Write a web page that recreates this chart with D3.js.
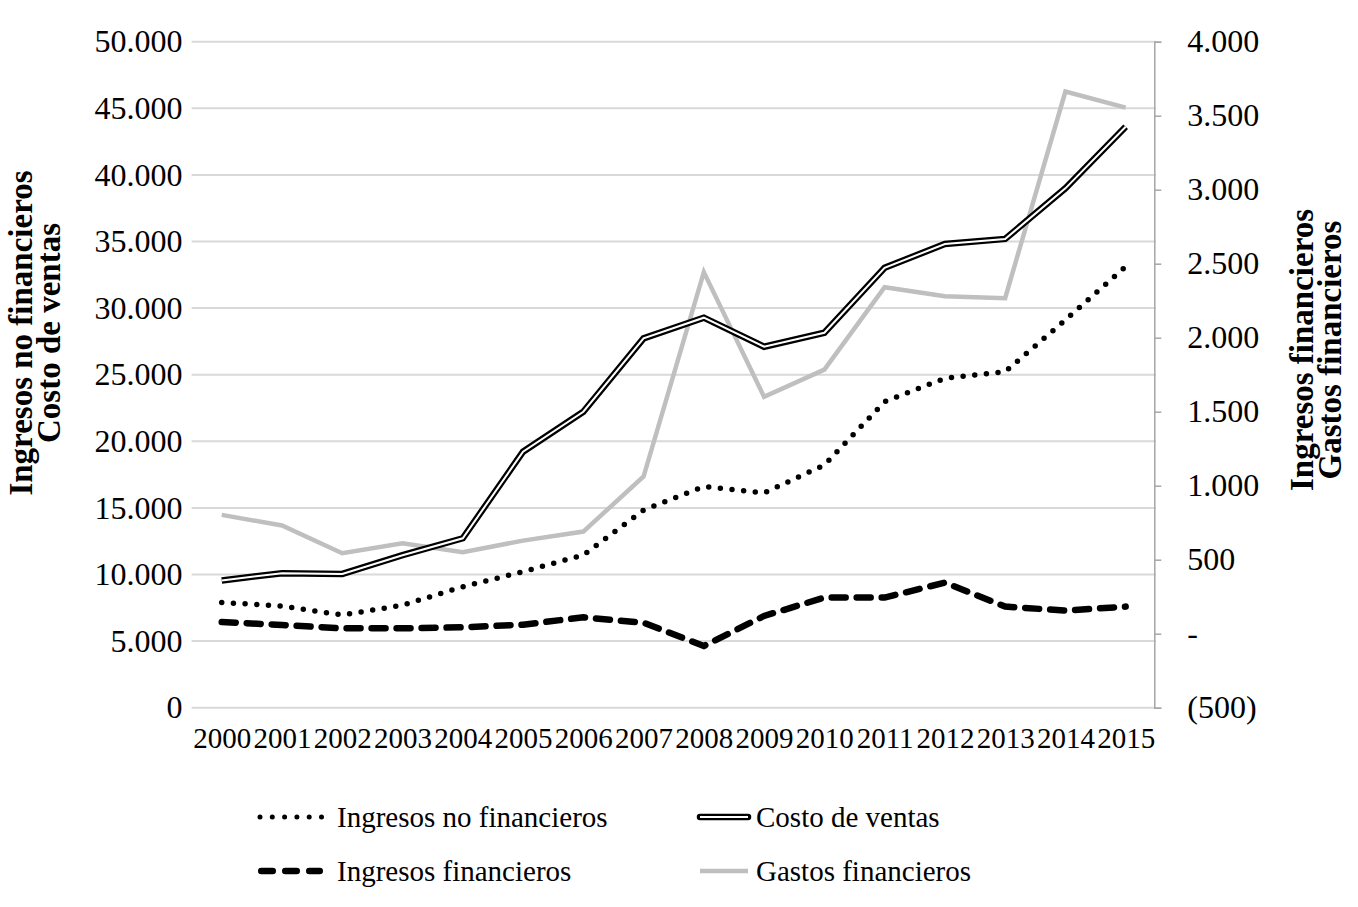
<!DOCTYPE html>
<html><head><meta charset="utf-8">
<script src="https://cdn.jsdelivr.net/npm/d3@7/dist/d3.min.js"></script>
<style>body{margin:0;background:#fff}svg{display:block}text{font-family:"Liberation Serif","Times New Roman",serif;fill:#000}</style>
</head><body><svg id="c" width="1358" height="907"></svg>
<script>
const years = ["2000","2001","2002","2003","2004","2005","2006","2007","2008","2009","2010","2011","2012","2013","2014","2015"];
const ingresosNoFin = [7900,7630,6960,7700,9080,10210,11460,14840,16600,16120,18220,22970,24730,25220,29110,33110];
const costoVentas = [9550,10100,10040,11450,12720,19220,22220,27730,29280,27100,28150,33030,34810,35190,38990,43620];
const ingresosFin = [79,59,36,36,43,61,111,74,-83,120,244,244,345,183,156,183];
const gastosFin = [803,731,544,611,551,629,690,1062,2443,1600,1784,2341,2280,2267,3663,3555];
const leftTicks = [0,5000,10000,15000,20000,25000,30000,35000,40000,45000,50000];
const rightTicks = [-500,0,500,1000,1500,2000,2500,3000,3500,4000];
const leftTitle = ["Ingresos no financieros","Costo de ventas"];
const rightTitle = ["Ingresos financieros","Gastos financieros"];

const svg = d3.select("#c");
const L=191.6, R=1155.8, T=41.7, B=707.7;
const x = d3.scalePoint().domain(years).range([L,R]).padding(0.5);
const yL = d3.scaleLinear().domain([0,50000]).range([B,T]);
const yR = d3.scaleLinear().domain([-500,4000]).range([B,T]);
const loc = d3.formatLocale({decimal:",",thousands:".",grouping:[3],currency:["",""]});
const fL = loc.format(",");
const fR = v => v===0 ? "-" : v<0 ? "("+fL(-v)+")" : fL(v);

// gridlines
svg.append("g").selectAll("line").data(leftTicks).join("line")
  .attr("x1",L).attr("x2",R).attr("y1",d=>yL(d)).attr("y2",d=>yL(d))
  .attr("stroke","#d9d9d9").attr("stroke-width",2);

// left axis labels
const gl = svg.append("g").attr("transform",`translate(${L},0)`)
  .call(d3.axisLeft(yL).tickValues(leftTicks).tickFormat(fL).tickSize(0).tickPadding(9));
gl.select(".domain").remove();
gl.selectAll("text").attr("font-size",32).attr("fill","#000");

// right axis
const gr = svg.append("g").attr("transform",`translate(${R-1.5},0)`)
  .call(d3.axisRight(yR).tickValues(rightTicks).tickFormat(fR).tickSizeInner(7).tickSizeOuter(7).tickPadding(26));
gr.select(".domain").attr("stroke","#a6a6a6").attr("stroke-width",1.5);
gr.selectAll(".tick line").attr("stroke","#a6a6a6").attr("stroke-width",1.5);
gr.selectAll("text").attr("font-size",32).attr("fill","#000");

// x axis labels
const gx = svg.append("g").attr("transform",`translate(0,${B})`)
  .call(d3.axisBottom(x).tickSize(0).tickPadding(20));
gx.select(".domain").remove();
gx.selectAll("text").attr("font-size",29).attr("fill","#000");

const lineL = d3.line().x((d,i)=>x(years[i])).y(d=>yL(d));
const lineR = d3.line().x((d,i)=>x(years[i])).y(d=>yR(d));

// gastos financieros
svg.append("path").attr("d",lineR(gastosFin)).attr("fill","none").attr("stroke","#bfbfbf").attr("stroke-width",4.5);
// costo de ventas double
svg.append("path").attr("d",lineL(costoVentas)).attr("fill","none").attr("stroke","#000").attr("stroke-width",6.5);
svg.append("path").attr("d",lineL(costoVentas)).attr("fill","none").attr("stroke","#fff").attr("stroke-width",2);
// ingresos no financieros dotted
svg.append("path").attr("d",lineL(ingresosNoFin)).attr("fill","none").attr("stroke","#000").attr("stroke-width",5.5)
  .attr("stroke-linecap","round").attr("stroke-dasharray","0 11.7");
// ingresos financieros dashed
svg.append("path").attr("d",lineR(ingresosFin)).attr("fill","none").attr("stroke","#000").attr("stroke-width",6.5)
  .attr("stroke-linecap","round").attr("stroke-dasharray","14 11");

// axis titles
const lt = svg.append("text").attr("transform","translate(0,333) rotate(-90)").attr("text-anchor","middle")
  .attr("font-size",33).attr("font-weight","bold");
leftTitle.forEach((t,i)=>lt.append("tspan").attr("x",0).attr("y",32+i*28).text(t));
const rt = svg.append("text").attr("transform","translate(0,350) rotate(-90)").attr("text-anchor","middle")
  .attr("font-size",33).attr("font-weight","bold");
rightTitle.forEach((t,i)=>rt.append("tspan").attr("x",0).attr("y",1313+i*28).text(t));

// legend
const legend = [
  {name:"Ingresos no financieros", type:"dot", x:260, y:817},
  {name:"Costo de ventas", type:"double", x:700, y:817},
  {name:"Ingresos financieros", type:"dash", x:260, y:871},
  {name:"Gastos financieros", type:"gray", x:700, y:871}
];
legend.forEach(d=>{
  const g = svg.append("g");
  let tx;
  if(d.type==="dot"){
    g.append("line").attr("x1",d.x).attr("x2",d.x+63).attr("y1",d.y).attr("y2",d.y).attr("stroke","#000").attr("stroke-width",5)
      .attr("stroke-linecap","round").attr("stroke-dasharray","0 12.3");
    tx = d.x+77;
  } else if(d.type==="dash"){
    g.append("line").attr("x1",d.x+1.25).attr("x2",d.x+59.75).attr("y1",d.y).attr("y2",d.y).attr("stroke","#000").attr("stroke-width",6.5)
      .attr("stroke-linecap","round").attr("stroke-dasharray","11.5 12.5");
    tx = d.x+77;
  } else if(d.type==="double"){
    g.append("line").attr("x1",d.x).attr("x2",d.x+48).attr("y1",d.y).attr("y2",d.y).attr("stroke","#000").attr("stroke-width",6.5).attr("stroke-linecap","round");
    g.append("line").attr("x1",d.x).attr("x2",d.x+48).attr("y1",d.y).attr("y2",d.y).attr("stroke","#fff").attr("stroke-width",2);
    tx = d.x+56;
  } else {
    g.append("line").attr("x1",d.x).attr("x2",d.x+48).attr("y1",d.y).attr("y2",d.y).attr("stroke","#bfbfbf").attr("stroke-width",4.5);
    tx = d.x+56;
  }
  g.append("text").attr("x",tx).attr("y",d.y).attr("dy","0.33em").attr("font-size",29).text(d.name);
});
</script></body></html>
